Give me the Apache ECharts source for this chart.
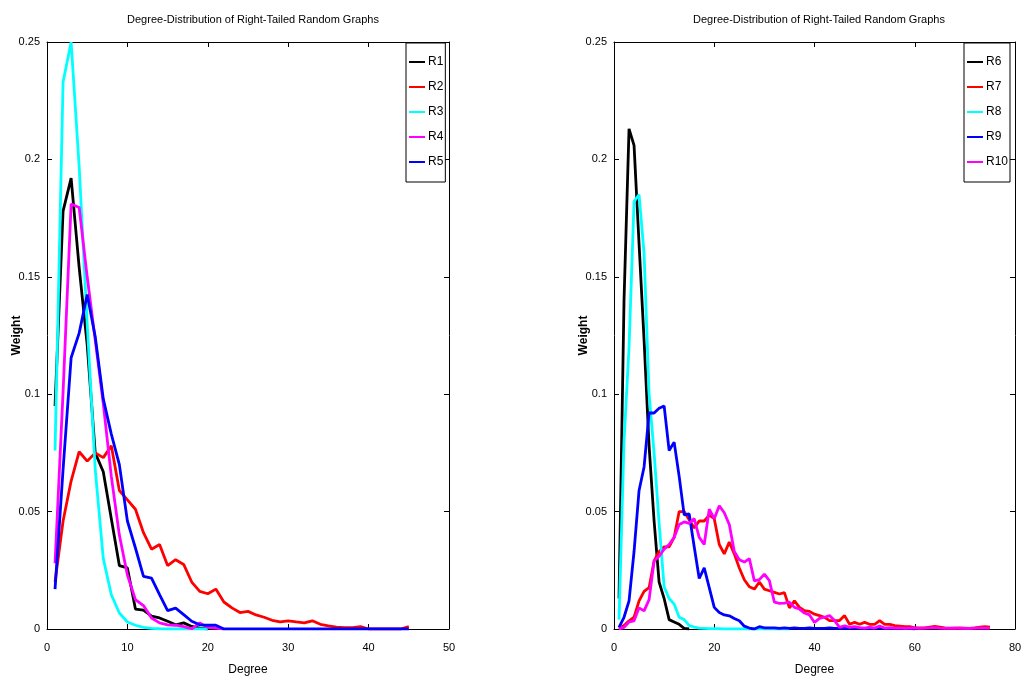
<!DOCTYPE html>
<html>
<head>
<meta charset="utf-8">
<script src="https://cdn.jsdelivr.net/npm/echarts@6/dist/echarts.min.js"></script>
<style>
  html, body { margin: 0; padding: 0; background: #fff; }
  #chart { width: 1033px; height: 684px; }
</style>
</head>
<body>
<div id="chart"></div>
<script>
// 度分布 - 两个子图
var titleText = 'Degree-Distribution of Right-Tailed Random Graphs'
var fontName = '"Liberation Sans Narrow", "Liberation Sans", sans-serif'

var yTicks = [0, 0.05, 0.1, 0.15, 0.2, 0.25]
var xTicksLeft = [0, 10, 20, 30, 40, 50]
var xTicksRight = [0, 20, 40, 60, 80]

// 左图 x 值
var degLeft = [1, 2, 3, 4, 5, 6, 7, 8, 9, 10, 11, 12, 13, 14, 15, 16, 17, 18, 19, 20,
  21, 22, 23, 24, 25, 26, 27, 28, 29, 30, 31, 32, 33, 34, 35, 36, 37, 38, 39, 40,
  41, 42, 43, 44, 45]
// 右图 x 值
var degRight = [1, 2, 3, 4, 5, 6, 7, 8, 9, 10, 11, 12, 13, 14, 15, 16, 17, 18, 19, 20,
  21, 22, 23, 24, 25, 26, 27, 28, 29, 30, 31, 32, 33, 34, 35, 36, 37, 38, 39, 40,
  41, 42, 43, 44, 45, 46, 47, 48, 49, 50, 51, 52, 53, 54, 55, 56, 57, 58, 59, 60,
  61, 62, 63, 64, 65, 66, 67, 68, 69, 70, 71, 72, 73, 74, 75]

var r1 = [0.095, 0.178, 0.192, 0.154, 0.121, 0.075, 0.067, 0.047, 0.027, 0.026,
  0.0085, 0.008, 0.0055, 0.0047, 0.0033, 0.0018, 0.0026, 0.0011, 0.0004, 0]
var r2 = [0.02, 0.046, 0.063, 0.0755, 0.0715, 0.075, 0.073, 0.078, 0.059, 0.055,
  0.051, 0.041, 0.034, 0.036, 0.027, 0.0295, 0.0275, 0.020, 0.016, 0.015,
  0.017, 0.0115, 0.009, 0.007, 0.0075, 0.006, 0.005, 0.0037, 0.003, 0.0035,
  0.003, 0.0026, 0.0035, 0.002, 0.0013, 0.0008, 0.0006, 0.0006, 0.001, 0,
  0, 0, 0, 0, 0.001]
var r3 = [0.076, 0.233, 0.25, 0.197, 0.13, 0.068, 0.030, 0.0146, 0.0068, 0.003,
  0.0016, 0.0007, 0.0003, 0.0001, 0, 0, 0, 0, 0, 0]
var r4 = [0.028, 0.101, 0.181, 0.1795, 0.150, 0.123, 0.096, 0.065, 0.040, 0.023,
  0.0125, 0.010, 0.0047, 0.0026, 0.0018, 0.0016, 0.001, 0.0001, 0.0026, 0.0007,
  0.0004, 0]
var r5 = [0.017, 0.068, 0.1155, 0.126, 0.1425, 0.1245, 0.098, 0.083, 0.070, 0.046,
  0.0345, 0.0224, 0.0217, 0.0146, 0.0078, 0.0089, 0.0061, 0.0033, 0.0018, 0.0016,
  0.0016, 0, 0, 0, 0, 0, 0, 0, 0, 0,
  0, 0, 0, 0, 0, 0, 0, 0, 0, 0,
  0, 0, 0, 0, 0]

var r6 = [0.013, 0.14, 0.213, 0.206, 0.164, 0.123, 0.078, 0.046, 0.02, 0.013,
  0.004, 0.003, 0.002, 0.0003, 0]
var r7 = [0, 0.0015, 0.0035, 0.005, 0.012, 0.016, 0.0176, 0.029, 0.033, 0.035,
  0.035, 0.039, 0.050, 0.050, 0.0465, 0.043, 0.046, 0.046, 0.0485, 0.047,
  0.036, 0.032, 0.037, 0.032, 0.026, 0.021, 0.018, 0.017, 0.020, 0.017,
  0.0163, 0.0156, 0.0149, 0.0155, 0.009, 0.012, 0.0092, 0.0078, 0.0075, 0.0063,
  0.0057, 0.005, 0.0036, 0.0036, 0.0036, 0.0057, 0.002, 0.0028, 0.002, 0.0028,
  0.002, 0.002, 0.0036, 0.002, 0.002, 0.0014, 0.0012, 0.001, 0.001, 0.0005,
  0.0005, 0.0005, 0.0008, 0.0011, 0.0008, 0.0005, 0.0003, 0.0003, 0.0005, 0.0003,
  0.0003, 0.0005, 0.0008, 0.001, 0.0008]
var r8 = [0.004, 0.08, 0.12, 0.182, 0.185, 0.16, 0.10, 0.075, 0.045, 0.018,
  0.013, 0.0106, 0.005, 0.004, 0.0015, 0.0008, 0.0004, 0.0003, 0.0002, 0.0002,
  0.0001, 0, 0, 0, 0, 0, 0, 0, 0, 0,
  0, 0, 0, 0, 0]
var r9 = [0.0007, 0.005, 0.012, 0.033, 0.059, 0.069, 0.092, 0.092, 0.094, 0.095,
  0.076, 0.0796, 0.065, 0.0486, 0.049, 0.035, 0.0215, 0.026, 0.0176, 0.0092,
  0.007, 0.006, 0.0056, 0.0045, 0.0035, 0.0012, 0.0004, 0, 0.001, 0.0005,
  0.0005, 0.0005, 0.0003, 0.0005, 0.0003, 0.0005, 0.0003, 0.0003, 0.0005, 0.0003,
  0.0003, 0.0003, 0.0005, 0.0003, 0.0003, 0.0003, 0.0003, 0.0005, 0.0003, 0.0003,
  0.0003, 0.0003, 0.0005, 0.0003, 0.0003, 0.0003, 0.0003, 0.0003, 0.0003, 0]
var r10 = [0, 0.0007, 0.003, 0.0035, 0.009, 0.0077, 0.0125, 0.029, 0.031, 0.034,
  0.036, 0.039, 0.0445, 0.0456, 0.045, 0.047, 0.039, 0.036, 0.051, 0.047,
  0.0525, 0.0495, 0.0445, 0.033, 0.0295, 0.0285, 0.030, 0.0205, 0.021, 0.0234,
  0.0206, 0.0114, 0.0109, 0.011, 0.0114, 0.0092, 0.0085, 0.0068, 0.006, 0.0028,
  0.0045, 0.005, 0.0057, 0.0036, 0.0007, 0.0014, 0.0007, 0.001, 0.0006, 0.0004,
  0.0008, 0.0004, 0.0012, 0.0004, 0.0006, 0.0004, 0.0005, 0.0003, 0.0004, 0.0005,
  0.0003, 0.0004, 0.0005, 0.0006, 0.0004, 0.0003, 0.0004, 0.0005, 0.0003, 0.0004,
  0.0003, 0.0004, 0.0005, 0.0004, 0.0004]

var namesLeft = ['R1', 'R2', 'R3', 'R4', 'R5']
var namesRight = ['R6', 'R7', 'R8', 'R9', 'R10']
var colorsLeft = ['#000000', '#ff0000', '#00ffff', '#ff00ff', '#0000ff']
var colorsRight = ['#000000', '#ff0000', '#00ffff', '#0000ff', '#ff00ff']

var dom = document.getElementById('chart')
var chart = echarts.init(dom)

// x, y 组合成点
function pairs(xs, ys) {
  return ys.map(function (v, i) { return [xs[i], v] })
}

function lineSeries(name, xs, ys, color, gridIndex) {
  return {
    type: 'line',
    name: name,
    xAxisIndex: gridIndex * 2,
    yAxisIndex: gridIndex * 2,
    data: pairs(xs, ys),
    showSymbol: false,
    symbol: 'none',
    color: color,
    lineStyle: { width: 2.8, color: color },
    emphasis: { disabled: true },
    z: 2
  }
}

// 主坐标轴 + 用于画框和刻度的对面坐标轴
function xAxes(gridIndex, maxV, step) {
  var base = {
    type: 'value',
    gridIndex: gridIndex,
    min: 0,
    max: maxV,
    interval: step,
    axisLine: { onZero: false, lineStyle: { color: '#000', width: 1 } },
    axisTick: { inside: true, length: 5, lineStyle: { color: '#000' } },
    splitLine: { show: false }
  }
  return [
    Object.assign({}, base, {
      position: 'bottom',
      name: 'Degree',
      nameLocation: 'middle',
      nameGap: 35,
      nameMoveOverlap: false,
      nameTextStyle: { color: '#000', fontSize: 12, fontFamily: fontName },
      axisLabel: { color: '#000', fontSize: 11, fontFamily: fontName, margin: 13 }
    }),
    Object.assign({}, base, {
      position: 'top',
      axisLabel: { show: false }
    })
  ]
}

function yAxes(gridIndex) {
  var base = {
    type: 'value',
    gridIndex: gridIndex,
    min: 0,
    max: 0.25,
    interval: 0.05,
    axisLine: { show: true, onZero: false, lineStyle: { color: '#000', width: 1 } },
    axisTick: { show: true, inside: true, length: 5, lineStyle: { color: '#000' } },
    splitLine: { show: false }
  }
  return [
    Object.assign({}, base, {
      position: 'left',
      name: 'Weight',
      nameLocation: 'middle',
      nameGap: 24,
      nameMoveOverlap: false,
      nameTextStyle: { color: '#000', fontSize: 12, fontWeight: 'bold', fontFamily: fontName },
      axisLabel: { color: '#000', fontSize: 11, fontFamily: fontName, margin: 7 }
    }),
    Object.assign({}, base, {
      position: 'right',
      axisLabel: { show: false }
    })
  ]
}

function legendOf(names, left) {
  return {
    data: names,
    orient: 'vertical',
    left: left,
    top: 43,
    padding: [12, 2, 13, 3],
    itemGap: 11,
    itemWidth: 16,
    itemHeight: 2,
    icon: 'rect',
    borderColor: '#000',
    borderWidth: 1,
    backgroundColor: '#fff',
    selectedMode: false,
    textStyle: { color: '#000', fontSize: 12, fontFamily: fontName, padding: [0, 0, 0, -2], lineHeight: 14, height: 14 }
  }
}

function getOption() {
  var series = []
  var leftData = [r1, r2, r3, r4, r5]
  var rightData = [r6, r7, r8, r9, r10]
  leftData.forEach(function (d, i) {
    series.push(lineSeries(namesLeft[i], degLeft, d, colorsLeft[i], 0))
  })
  rightData.forEach(function (d, i) {
    series.push(lineSeries(namesRight[i], degRight, d, colorsRight[i], 1))
  })
  return {
    animation: false,
    backgroundColor: '#fff',
    title: [
      { text: titleText, left: 248, top: 9, textAlign: 'center',
        textStyle: { fontSize: 11, fontWeight: 'normal', color: '#000', fontFamily: fontName } },
      { text: titleText, left: 814, top: 9, textAlign: 'center',
        textStyle: { fontSize: 11, fontWeight: 'normal', color: '#000', fontFamily: fontName } }
    ],
    legend: [legendOf(namesLeft, 406), legendOf(namesRight, 964)],
    grid: [
      { left: 47, right: 584, top: 42, bottom: 55 },
      { left: 614, right: 18, top: 42, bottom: 55 }
    ],
    xAxis: xAxes(0, 50, 10).concat(xAxes(1, 80, 20)),
    yAxis: yAxes(0).concat(yAxes(1)),
    series: series
  }
}

chart.setOption(getOption())
</script>
</body>
</html>
